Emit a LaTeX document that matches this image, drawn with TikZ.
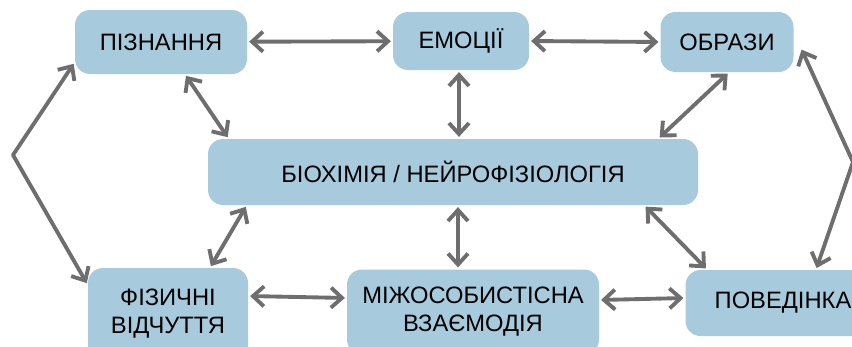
\documentclass[tikz,border=0pt]{standalone}
\usepackage{fontspec}
\setmainfont{Liberation Sans}
\usetikzlibrary{arrows.meta}

\definecolor{boxblue}{HTML}{A7CBDD}
\definecolor{arrgray}{HTML}{6E6E6E}

\begin{document}
\begin{tikzpicture}[
    box/.style={fill=boxblue, rounded corners=0.3cm, align=center,
      font=\fontsize{13.5}{16}\selectfont, inner sep=0pt},
    arr/.style={draw=arrgray, line width=2.2pt, line join=round,
      {Straight Barb[length=2.2mm,width=4mm]}-{Straight Barb[length=2.2mm,width=4mm]},
      shorten <=1pt, shorten >=1pt}
  ]
  \useasboundingbox (0,0) rectangle (17.04,6.92);

  \node[box, minimum width=3.44cm, minimum height=1.28cm] (pizn) at (3.22,6.08) {ПІЗНАННЯ};
  \node[box, minimum width=2.72cm, minimum height=1.16cm] (emoc) at (9.22,6.10) {ЕМОЦІЇ};
  \node[box, minimum width=2.66cm, minimum height=1.20cm] (obraz) at (14.54,6.08) {ОБРАЗИ};
  \node[box, minimum width=9.80cm, minimum height=1.32cm] (bio) at (9.06,3.48) {БІОХІМІЯ / НЕЙРОФІЗІОЛОГІЯ};
  \node[box, minimum width=3.20cm, minimum height=1.84cm] (fiz) at (3.36,0.64) {ФІЗИЧНІ\\ВІДЧУТТЯ};
  \node[box, minimum width=5.04cm, minimum height=1.70cm] (mizh) at (9.46,0.68) {МІЖОСОБИСТІСНА\\ВЗАЄМОДІЯ};
  \node[box, minimum width=3.90cm, minimum height=1.32cm] (pov) at (15.66,0.86) {ПОВЕДІНКА};

  \coordinate (lv) at (0.26,3.82);
  \coordinate (rv) at (17.06,3.68);

  % top row
  \draw[arr] (pizn) -- (emoc);
  \draw[arr] (emoc.east) -- (obraz.west);
  % to the middle
  \draw[arr] ([xshift=0.48cm]pizn.south) -- ([xshift=0.42cm]bio.north west);
  \draw[arr] ([xshift=-0.04cm]emoc.south) -- ([xshift=0.12cm]bio.north);
  \draw[arr] ([xshift=0.04cm]obraz.south) -- ([xshift=-0.80cm]bio.north east);
  \draw[arr] ([xshift=0.78cm]bio.south west) -- ([xshift=0.84cm]fiz.north);
  \draw[arr] ([xshift=0.10cm]bio.south) -- ([xshift=-0.30cm]mizh.north);
  \draw[arr] ([xshift=-1.08cm]bio.south east) -- ([xshift=0.44cm]pov.north west);
  % bottom row
  \draw[arr] ([yshift=0.36cm]fiz.east) -- ([yshift=0.28cm]mizh.west);
  \draw[arr] ([yshift=0.24cm]mizh.east) -- ([yshift=0.10cm]pov.west);
  % outer loops
  \draw[arr] ([yshift=0.24cm]pizn.south west) -- (lv) -- ([yshift=-0.34cm]fiz.north west);
  \draw[arr] ([shift={(0.14,-0.12)}]obraz.east) -- (rv) -- ([xshift=0.66cm]pov.north);
\end{tikzpicture}
\end{document}
